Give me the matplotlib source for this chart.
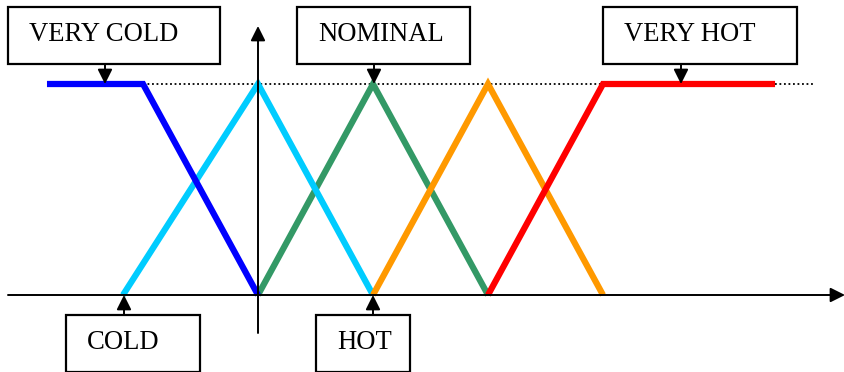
import matplotlib.pyplot as plt
from matplotlib.patches import Rectangle

plt.rcParams['font.family'] = ['Liberation Serif', 'DejaVu Serif']

# membership functions (x in units of one step, y = membership degree)
very_cold_x = [-1.835, -1.0, 0.0]
very_cold_y = [1, 1, 0]
cold_x = [-1.174, 0.0, 1.0]
cold_y = [0, 1, 0]
nominal_x = [0.0, 1.0, 2.0]
nominal_y = [0, 1, 0]
hot_x = [1.0, 2.0, 3.0]
hot_y = [0, 1, 0]
very_hot_x = [2.0, 3.0, 4.496]
very_hot_y = [0, 1, 1]

W, H = 845, 372
fig = plt.figure(figsize=(W / 100, H / 100), dpi=100)
ax = fig.add_axes([0, 0, 1, 1])
# pixel layout: x=0 at 258px, 115px per unit; y=0 at 295px, y=1 at 84px
ax.set_xlim(-258 / 115, (W - 258) / 115)
ax.set_ylim(-(H - 295) / 211, 295 / 211)
ax.axis('off')


def px(x, y):
    # pixel (from top-left) -> figure fraction
    return x / W, 1 - y / H


lw = 4.5
kw = dict(lw=lw, solid_capstyle='butt', solid_joinstyle='miter')
ax.plot(nominal_x, nominal_y, color='#339966', zorder=2, **kw)
ax.plot(cold_x, cold_y, color='#00CCFF', zorder=3, **kw)
ax.plot(very_cold_x, very_cold_y, color='#0000FF', zorder=4, **kw)
ax.plot(hot_x, hot_y, color='#FF9900', zorder=3, **kw)
ax.plot(very_hot_x, very_hot_y, color='#FF0000', zorder=4, **kw)

# dotted top line
ax.plot([-1.0, (815 - 258) / 115], [1, 1], color='black', lw=1.3,
        linestyle=(0, (1, 1.5)), zorder=1)

arrow = dict(arrowstyle='-|>', color='black', lw=1.4,
             mutation_scale=22, shrinkA=0, shrinkB=0)

# axes with arrows
ax.annotate('', xy=px(845, 295), xytext=px(8, 295), xycoords='figure fraction',
            arrowprops=arrow, zorder=5)
ax.annotate('', xy=px(258, 26), xytext=px(258, 333), xycoords='figure fraction',
            arrowprops=arrow, zorder=5)

# label boxes: (text, left, top, right, bottom, arrow x, arrow from, arrow to)
boxes = [
    ('VERY COLD', 8, 7, 220, 64, 105, 64, 84),
    ('NOMINAL', 297, 7, 470, 64, 374, 64, 84),
    ('VERY HOT', 603, 7, 797, 64, 681, 64, 84),
    ('COLD', 66, 315, 200, 372, 124, 315, 295),
    ('HOT', 316, 315, 410, 372, 373, 315, 295),
]
for text, l, t, r, b, axp, y0, y1 in boxes:
    x0, yb = px(l, b)
    x1, yt = px(r, t)
    fig.patches.append(Rectangle((x0, yb), x1 - x0, yt - yb, transform=fig.transFigure,
                                 facecolor='white', edgecolor='black', lw=1.6, zorder=6))
    tx, ty = px(l + 21, (t + b) / 2 - 1)
    fig.text(tx, ty, text, fontsize=19.2, ha='left', va='center', zorder=7)
    ax.annotate('', xy=px(axp, y1), xytext=px(axp, y0), xycoords='figure fraction',
                arrowprops=arrow, zorder=6)

fig.savefig('out.png', dpi=100)
